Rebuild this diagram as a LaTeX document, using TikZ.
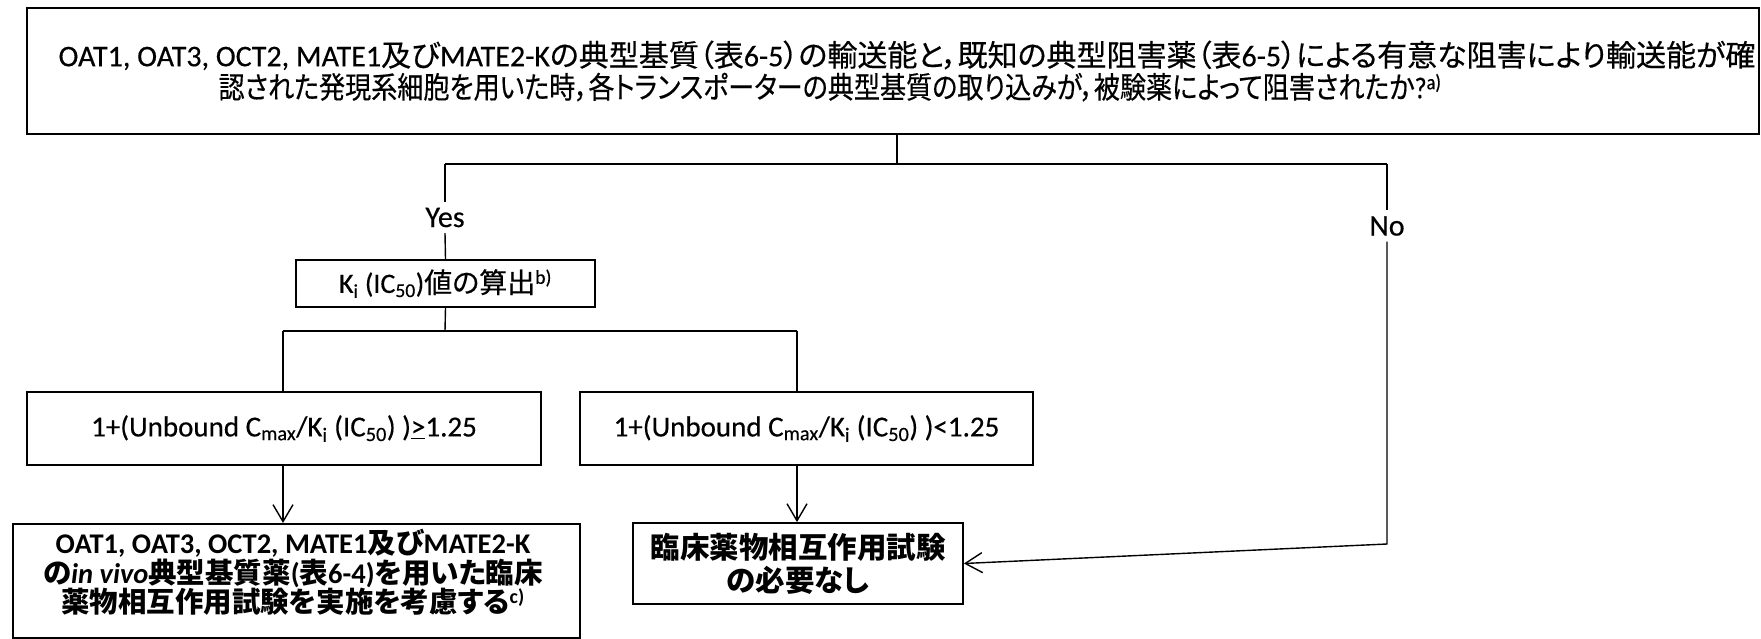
\documentclass[tikz,border=0pt]{standalone}
\usepackage{graphicx}
\usepackage{fontspec}
\setmainfont{Carlito}[UprightFeatures={FakeBold=0.4}]
\newfontfamily\jp{Noto Sans CJK JP}[CharacterWidth=AlternateProportional, UprightFeatures={FakeBold=0.4}]
\newcommand\J[1]{{\jp #1}}
\usetikzlibrary{arrows.meta}
\tikzset{
  box/.style={draw, line width=1.8pt, inner sep=0pt, align=center},
  conn/.style={line width=1.4pt},
  arr/.style={conn, -{Straight Barb[length=17pt,width=20pt,line width=1.4pt]}},
  lbl/.style={inner sep=0pt, minimum height=31pt, font=\fontsize{30}{32}\selectfont},
  txt/.style={align=center, inner sep=0pt}
}
\begin{document}
\begin{tikzpicture}[x=1pt,y=-1pt]
\fill[white] (0,0) rectangle (1761,638);
\useasboundingbox (0,0) rectangle (1761,638);

% boxes
\node[box, minimum width=1732pt, minimum height=126pt, font=\fontsize{30}{32}\selectfont] (top) at (893,71)
 {\hspace*{28pt}OAT1, OAT3, OCT2, MATE1\J{及び}MATE2-K\J{の典型基質（表}6-5\J{）の輸送能と，既知の典型阻害薬（表}6-5\J{）による有意な阻害により輸送能が確}\\
  \scalebox{0.87}[1]{\J{認された発現系細胞を用いた時，各トランスポーターの典型基質の取り込みが，被験薬によって阻害されたか}?\textsuperscript{a)}}\hspace*{126pt}};

\node[box, minimum width=299pt, minimum height=47pt, font=\fontsize{28}{30}\selectfont] (ki) at (445.5,283.5)
 {K\textsubscript{i} (IC\textsubscript{50})\J{値の算出}\textsuperscript{b)}};

\node[box, minimum width=514pt, minimum height=73pt, font=\fontsize{29}{32}\selectfont] (c1) at (284,428.5)
 {1+(Unbound C\textsubscript{max}/K\textsubscript{i} (IC\textsubscript{50}) )\underline{>}1.25};

\node[box, minimum width=453pt, minimum height=73pt, font=\fontsize{29}{32}\selectfont] (c2) at (806.5,428.5)
 {1+(Unbound C\textsubscript{max}/K\textsubscript{i} (IC\textsubscript{50}) )<1.25};

\node[box, minimum width=567pt, minimum height=114pt, anchor=north] (b1) at (296.5,523) {};
\node[txt, font=\bfseries\fontsize{28.5}{25.5}\selectfont] (b1t) at (293,572.5)
 {OAT1, OAT3, OCT2, MATE1\J{及び}MATE2-K\\
  \J{の}\textit{in vivo}\J{典型基質薬}(\J{表}6-4)\J{を用いた臨床}\\
  \J{薬物相互作用試験を実施を考慮する}\textsuperscript{c)}};

\node[box, minimum width=330pt, minimum height=81pt, font=\bfseries\fontsize{29.5}{33}\selectfont] (b2) at (798,563.5)
 {\J{臨床薬物相互作用試験}\\\J{の必要なし}};

% labels
\node[lbl] (yes) at (445,217.5) {Yes};
\node[lbl] (no) at (1387,226) {No};

% junction coordinates
\coordinate (j1) at (897,164);
\coordinate (jy) at (445,164);
\coordinate (jn) at (1387,164);
\coordinate (sp) at (445,331);
\coordinate (sl) at (283,331);
\coordinate (sr) at (797,331);
\coordinate (bend) at (1387,544);

% connectors
\draw[conn] (j1 |- top.south) -- (j1);
\draw[conn] (jy) -- (jn);
\draw[conn] (jy) -- (yes.north);
\draw[conn] (yes.south) -- (ki.north);
\draw[conn] (ki.south) -- (sp);
\draw[conn] (sl) -- (sr);
\draw[conn] (sl) -- (sl |- c1.north);
\draw[conn] (sr) -- (sr |- c2.north);
\draw[arr] (sl |- c1.south) -- (sl |- b1.north);
\draw[arr] (sr |- c2.south) -- (sr |- b2.north);
\draw[conn] (jn) -- (no.north);
\draw[arr] (no.south) -- (bend) -- (b2.east);
\end{tikzpicture}
\end{document}
